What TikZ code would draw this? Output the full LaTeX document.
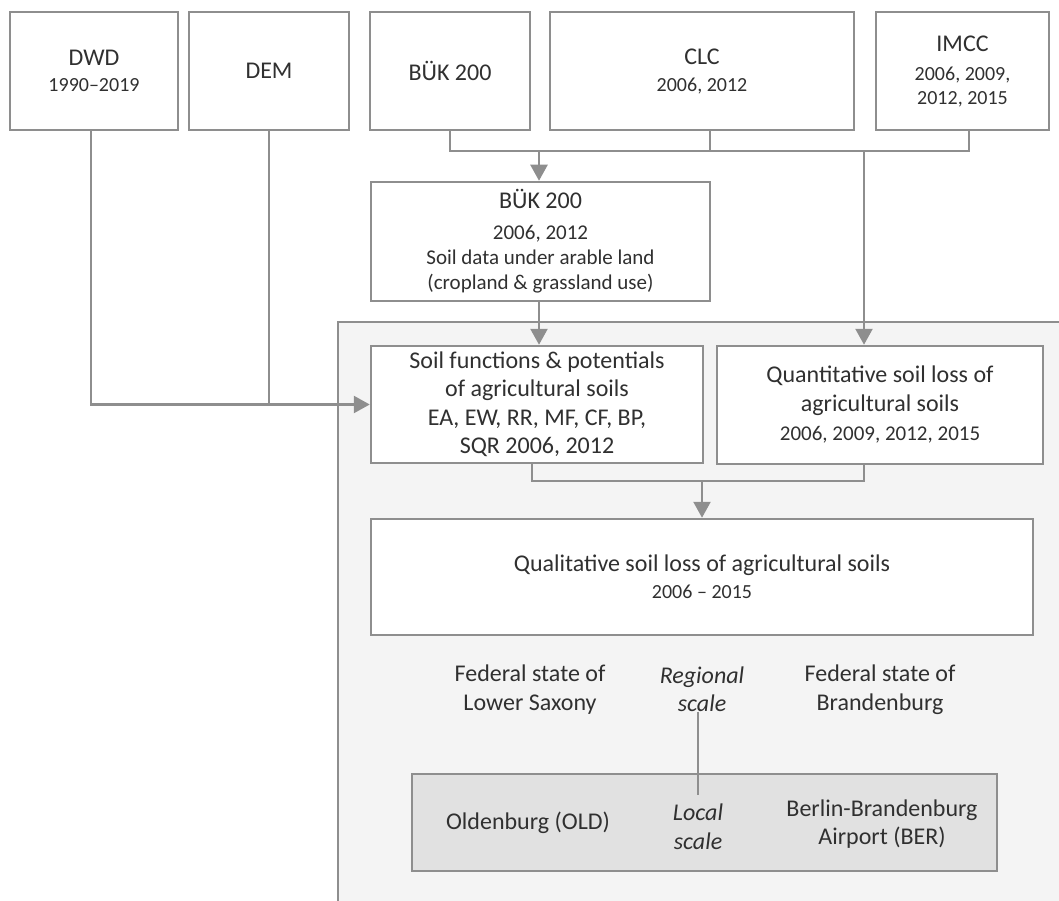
\documentclass[tikz,border=0pt]{standalone}
\usepackage{fontspec}
\setmainfont{Carlito}
\usetikzlibrary{arrows.meta,calc}
\definecolor{lnc}{HTML}{8E8E8E}
\definecolor{txc}{HTML}{303030}
\definecolor{panelc}{HTML}{F4F4F4}
\definecolor{greyc}{HTML}{E1E1E1}
\newcommand\fa{\fontsize{24}{28}\selectfont}
\newcommand\fb{\fontsize{20}{24}\selectfont}
\newcommand\fc{\fontsize{21}{25}\selectfont}
\begin{document}
\begin{tikzpicture}[x=1pt,y=-1pt,
  box/.style={draw=lnc,line width=2.5pt,fill=white,inner sep=0pt,align=center,text=txc},
  ln/.style={draw=lnc,line width=2.5pt},
  arr/.style={ln,-{Triangle[length=16pt,width=17pt]}},
  lbl/.style={text=txc,align=center,inner sep=5pt}]
\fill[white] (0,0) rectangle (1059,901);
\useasboundingbox (0,0) rectangle (1059,901);
% panel
\fill[panelc] (338,322) rectangle (1059,901);
\draw[ln] (338,905) -- (338,322) -- (1063,322);
\coordinate (hy) at (0,151);
\coordinate (hb) at (0,481);
% top row
\node[box,minimum width=168pt,minimum height=118pt,font=\fb] (dwd) at (94,71) {{\fa DWD}\\[2pt]1990--2019};
\node[box,minimum width=160pt,minimum height=118pt,font=\fa] (dem) at (269,71) {DEM};
\node[box,minimum width=160pt,minimum height=118pt,font=\fa] (buk) at (450,71) {BÜK 200};
\node[box,minimum width=304pt,minimum height=118pt,font=\fb] (clc) at (702,71) {{\fa CLC}\\[3pt]2006, 2012};
\node[box,minimum width=173pt,minimum height=118pt,font=\fb] (imcc) at (962.5,71) {{\fa IMCC}\\[5pt]2006, 2009,\\2012, 2015};
% middle
\node[box,minimum width=339pt,minimum height=119pt,font=\fc] (bukm) at (540.5,241.5) {{\fa BÜK 200}\\[6pt]2006, 2012\\Soil data under arable land\\(cropland \& grassland use)};
\node[box,minimum width=332pt,minimum height=117pt,font=\fontsize{24}{28.5}\selectfont] (soil) at (537,404.5) {Soil functions \& potentials\\of agricultural soils\\EA, EW, RR, MF, CF, BP,\\SQR 2006, 2012};
\node[box,minimum width=326pt,minimum height=118pt,font=\fontsize{24}{29}\selectfont] (quant) at (880,405) {Quantitative soil loss of\\agricultural soils\\{\fc 2006, 2009, 2012, 2015}};
\node[box,minimum width=662pt,minimum height=116pt,font=\fontsize{24}{27}\selectfont] (qual) at (702,577) {Qualitative soil loss of agricultural soils\\{\fb 2006 -- 2015}};
% scales
\node[lbl,font=\fontsize{24}{29}\selectfont] (fls) at (530,690) {Federal state of\\Lower Saxony};
\node[lbl,font=\fontsize{24}{28}\selectfont\itshape] (reg) at (702,689) {Regional\\scale};
\node[lbl,font=\fontsize{24}{29}\selectfont] (fbb) at (880,690) {Federal state of\\Brandenburg};
\node[draw=lnc,line width=2.5pt,fill=greyc,minimum width=585pt,minimum height=97pt] (gb) at (704.5,822.5) {};
\node[lbl,font=\fa] (old) at (528,823) {Oldenburg (OLD)};
\node[lbl,font=\fontsize{24}{29}\selectfont\itshape] (loc) at (698,827) {Local\\scale};
\node[lbl,font=\fontsize{24}{28}\selectfont] (ber) at (882,824) {Berlin-Brandenburg\\Airport (BER)};
% connectors
\draw[ln] (buk.south) -- (buk.south |- hy) -| ([xshift=8pt]clc.south);
\draw[ln] ([xshift=8pt]clc.south |- hy) -| ([xshift=6.5pt]imcc.south);
\draw[arr] ([xshift=-1.5pt]bukm.north |- hy) -- ([xshift=-1.5pt]bukm.north);
\draw[arr] ([xshift=-16pt]quant.north |- hy) -- ([xshift=-16pt]quant.north);
\draw[arr] ([xshift=-1.5pt]bukm.south) -- ([xshift=-1.5pt]bukm.south |- soil.north);
\draw[arr] ([xshift=-3pt]dwd.south) |- (soil.west);
\draw[ln] (dem.south) -- (dem.south |- soil.west);
\draw[ln] ([xshift=-5pt]soil.south) -- ([xshift=-5pt]soil.south |- hb) -| ([xshift=-16pt]quant.south);
\draw[arr] (qual.north |- hb) -- (qual.north);
\draw[ln,line width=2pt] ([yshift=5pt]reg.south -| loc.north) -- ([yshift=4pt]loc.north);
\end{tikzpicture}
\end{document}
